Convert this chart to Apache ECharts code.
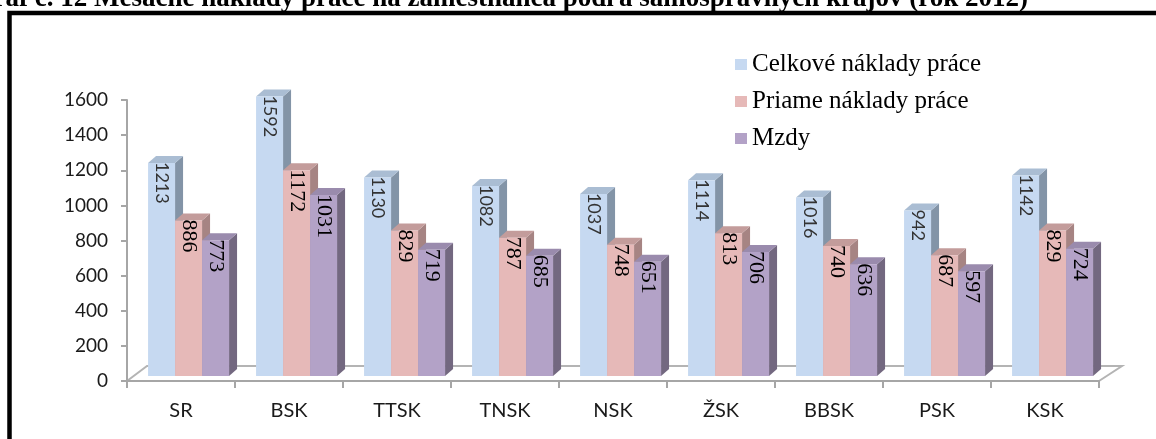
<!DOCTYPE html>
<html>
<head>
<meta charset="utf-8">
<script src="https://cdn.jsdelivr.net/npm/echarts@6/dist/echarts.min.js"></script>
<style>
  html, body { margin: 0; padding: 0; background: #fff; }
  #main { width: 1156px; height: 439px; }
</style>
</head>
<body>
<div id="main"></div>
<script>
// data
var kraje = ['SR', 'BSK', 'TTSK', 'TNSK', 'NSK', 'ŽSK', 'BBSK', 'PSK', 'KSK'];
var celkove = [1213, 1592, 1130, 1082, 1037, 1114, 1016, 942, 1142];
var priame = [886, 1172, 829, 787, 748, 813, 740, 687, 829];
var mzdy = [773, 1031, 719, 685, 651, 706, 636, 597, 724];
var nazvy = ['Celkové náklady práce', 'Priame náklady práce', 'Mzdy'];
var titulok = 'Graf č. 12 Mesačné náklady práce na zamestnanca podľa samosprávnych krajov (rok 2012)';

var farby = [
  { predok: '#c6d9f1', vrch: '#aabdd3', bok: '#8394a7', text: '#333333', size: 18, pismo: 'Lato' },
  { predok: '#e6b9b8', vrch: '#c39c9b', bok: '#a68483', text: '#000000', size: 22, pismo: 'Liberation Serif' },
  { predok: '#b3a2c7', vrch: '#9a8bad', bok: '#736880', text: '#000000', size: 22, pismo: 'Liberation Serif' }
];

var L = 127, R = 1099, T = 100, Y0 = 381;
var HLBKA_X = 8, HLBKA_Y = 7;

function kresli(s) {
  return function (params, api) {
    var i = api.value(0), v = api.value(1);
    var zakl = api.coord([i, 0]);
    var vrch = api.coord([i, v]);
    var pas = api.size([1, 0])[0];
    var w = pas * 0.25;
    var x1 = zakl[0] - pas / 2 + pas * 0.195 + s * w;
    var x2 = x1 + w;
    var yb = zakl[1] - 5, yt = vrch[1] - 5;
    var f = farby[s];
    return {
      type: 'group',
      children: [
        { type: 'polygon', shape: { points: [[x2, yt], [x2 + HLBKA_X, yt - HLBKA_Y], [x2 + HLBKA_X, yb - HLBKA_Y], [x2, yb]] }, style: { fill: f.bok } },
        { type: 'polygon', shape: { points: [[x1, yt], [x2, yt], [x2 + HLBKA_X, yt - HLBKA_Y], [x1 + HLBKA_X, yt - HLBKA_Y]] }, style: { fill: f.vrch } },
        { type: 'rect', shape: { x: x1, y: yt, width: w, height: yb - yt }, style: { fill: f.predok } },
        { type: 'text', x: x1 + w / 2, y: yt - 1, rotation: -Math.PI / 2,
          style: { text: String(v), align: 'left', verticalAlign: 'middle',
                   fontFamily: f.pismo, fontSize: f.size, fill: f.text } }
      ]
    };
  };
}

function seria(s, hodnoty) {
  return {
    name: nazvy[s],
    type: 'custom',
    renderItem: kresli(s),
    itemStyle: { color: farby[s].predok },
    encode: { x: 0, y: 1 },
    data: hodnoty.map(function (v, i) { return [i, v]; }),
    z: 3 + s
  };
}

var chartDom = document.getElementById('main');
var myChart = echarts.init(chartDom, null, { renderer: 'canvas' });
var option;

option = {
  animation: false,
  backgroundColor: '#ffffff',
  grid: { left: L, right: 1156 - R, top: T, bottom: 439 - Y0 },
  legend: {
    orient: 'vertical',
    left: 735,
    top: 52,
    padding: 0,
    icon: 'rect',
    itemWidth: 12,
    itemHeight: 11,
    itemGap: 12,
    textStyle: { fontFamily: 'Liberation Serif', fontSize: 25, lineHeight: 24, color: '#000' },
    data: nazvy
  },
  xAxis: {
    type: 'category',
    data: kraje,
    axisLine: { show: true, lineStyle: { color: '#a6a6a6', width: 2 } },
    axisTick: { show: true, length: 7, alignWithLabel: false, lineStyle: { color: '#a6a6a6', width: 2 } },
    axisLabel: { margin: 20, fontFamily: 'Lato', fontSize: 20, color: '#1a1a1a' },
    splitLine: { show: false }
  },
  yAxis: {
    type: 'value',
    min: 0,
    max: 1600,
    interval: 200,
    axisLine: { show: true, lineStyle: { color: '#a6a6a6', width: 2 } },
    axisTick: { show: true, length: 6, lineStyle: { color: '#a6a6a6', width: 2 } },
    axisLabel: { margin: 19, fontFamily: 'Lato', fontSize: 19, color: '#1a1a1a',
                 formatter: function (v) { return String(v); } },
    splitLine: { show: false }
  },
  graphic: [
    { type: 'polyline', z: 0, shape: { points: [[L, Y0], [L + 20, Y0 - 15], [R + 23, Y0 - 15], [R, Y0]] },
      style: { stroke: '#b4b4b4', lineWidth: 2, fill: null } },
    { type: 'rect', z: 10, shape: { x: 9.5, y: 13, width: 1300, height: 600 },
      style: { stroke: '#000', lineWidth: 4.5, fill: null } },
    { type: 'text', z: 10, x: 1028, y: -1,
      style: { text: titulok, align: 'right', verticalAlign: 'middle',
               fontFamily: 'Liberation Serif', fontWeight: 'bold', fontSize: 27, fill: '#000' } }
  ],
  series: [seria(0, celkove), seria(1, priame), seria(2, mzdy)]
};

option && myChart.setOption(option);
</script>
</body>
</html>
